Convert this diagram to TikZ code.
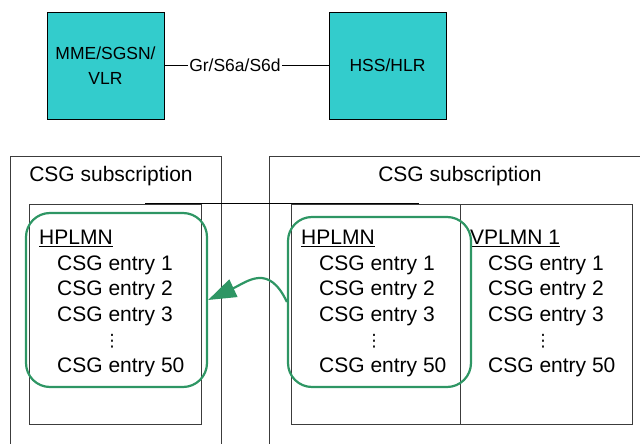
\documentclass[tikz,border=0pt]{standalone}
\usepackage{fontspec}
\setmainfont{Liberation Sans}
\newfontfamily\symfont{DejaVu Sans}
\usetikzlibrary{positioning,arrows.meta}
\definecolor{nodecyan}{RGB}{51,204,204}
\definecolor{homegreen}{RGB}{46,150,100}
\definecolor{frame}{RGB}{60,60,60}

\newcommand{\csgdots}{\makebox[0pt]{\symfont\fontsize{17}{25.5}\selectfont ⋮}}
\newcommand{\csglist}[1]{\underline{#1}\\
  \hspace*{18pt}CSG entry 1\\
  \hspace*{18pt}CSG entry 2\\
  \hspace*{18pt}CSG entry 3\\
  \hspace*{73pt}\csgdots\\
  \hspace*{18pt}CSG entry 50}

\begin{document}
\begin{tikzpicture}[
  x=1pt, y=-1pt,
  netbox/.style={draw=black, fill=nodecyan, minimum width=117pt, minimum height=107pt,
    align=center, font=\fontsize{17.5}{25}\selectfont},
  frame/.style={draw=frame, line width=0.8pt},
  title/.style={font=\fontsize{21}{25}\selectfont},
  list/.style={anchor=north west, inner sep=0pt, align=left, font=\fontsize{21}{25.5}\selectfont},
  homebox/.style={draw=homegreen, line width=2.2pt, rounded corners=24pt, inner sep=0pt},
  arrow/.style={-{Triangle[length=28pt,width=19pt,fill=homegreen]}, line width=2.2pt, draw=homegreen}
]
\useasboundingbox (0,0) rectangle (640,444);
\clip (0,0) rectangle (640,444);

% top part
\node[netbox] (mme) at (105.5,65.5) {MME/SGSN/\\VLR};
\node[netbox] (hss) at (387.5,65.5) {HSS/HLR};
\draw (mme) -- node[pos=0.43, fill=white, inner sep=1pt, font=\fontsize{17.5}{20}\selectfont] {Gr/S6a/S6d} (hss);

% subscription frames
\draw[frame] (10,460) -- (10,156) -- (221,156) -- (221,460);
\draw[frame] (269,460) -- (269,156) -- (660,156);
\node[title] (lsub) at (111,176) {CSG subscription};
\node[title] (rsub) at (460,176) {CSG subscription};
\draw[frame] (29,204) rectangle (201,424);
\draw[frame] (291,204) rectangle (632,424);
\draw[frame] (460,204) -- (460,424);
\coordinate (lineA) at (145,203.5);
\coordinate (lineB) at (419,203.5);
\draw[line width=1.3pt] (lineA) -- (lineB);

% lists
\node[list] (lhplmn) at (39,230) {\csglist{HPLMN}};
\node[list] (rhplmn) at (301,230) {\csglist{HPLMN}};
\node[list] (vplmn) at (470,230) {\csglist{VPLMN 1}};

% home entries
\node[homebox, minimum width=181pt, minimum height=174pt] (lhome) at (116.5,300) {};
\node[homebox, minimum width=183pt, minimum height=170pt] (rhome) at (379.5,302) {};
\draw[arrow] (rhome.west) to[out=115, in=25, looseness=1.4] (lhome.east);
\end{tikzpicture}
\end{document}
